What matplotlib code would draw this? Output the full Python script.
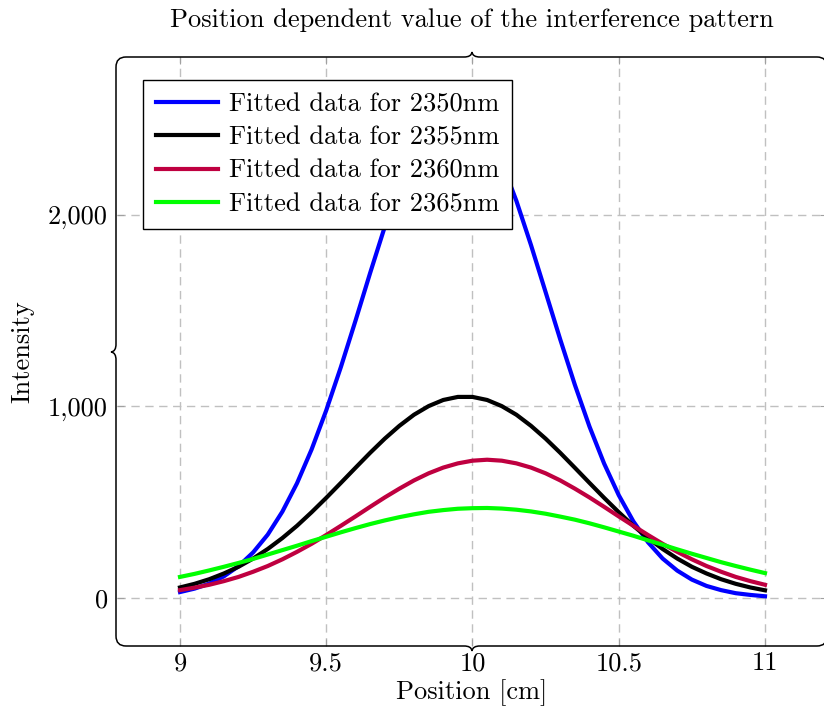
import matplotlib

matplotlib.use("Agg")
import matplotlib.pyplot as plt
import matplotlib.transforms as mtransforms
from matplotlib.patches import PathPatch
from matplotlib.path import Path
from matplotlib.ticker import FuncFormatter

plt.rcParams["font.family"] = ["cmr10", "DejaVu Serif"]
plt.rcParams["axes.formatter.use_mathtext"] = True
plt.rcParams["mathtext.fontset"] = "cm"

# position along the rail [cm]
position = [9.0, 9.05, 9.1, 9.15, 9.2, 9.25, 9.3, 9.35, 9.4, 9.45, 9.5,
            9.55, 9.6, 9.65, 9.7, 9.75, 9.8, 9.85, 9.9, 9.95, 10.0,
            10.05, 10.1, 10.15, 10.2, 10.25, 10.3, 10.35, 10.4, 10.45, 10.5,
            10.55, 10.6, 10.65, 10.7, 10.75, 10.8, 10.85, 10.9, 10.95, 11.0]

# fitted intensities per wavelength
fit_2350 = [31, 49, 75, 113, 166, 238, 331, 451, 599, 776, 980,
            1206, 1448, 1697, 1938, 2159, 2345, 2484, 2566, 2586, 2540,
            2435, 2275, 2074, 1843, 1597, 1350, 1113, 895, 702, 537,
            400, 291, 206, 143, 96, 63, 41, 25, 16, 9]
fit_2355 = [55, 74, 98, 128, 163, 206, 256, 313, 377, 448, 523,
            601, 680, 758, 832, 899, 957, 1002, 1034, 1050, 1050,
            1034, 1002, 957, 899, 832, 758, 680, 601, 523, 448,
            377, 313, 256, 206, 163, 128, 98, 74, 55, 40]
fit_2360 = [41, 54, 69, 88, 110, 137, 167, 202, 241, 283, 329,
            377, 426, 476, 525, 571, 614, 651, 681, 703, 717,
            722, 717, 703, 681, 651, 614, 571, 525, 476, 426,
            377, 329, 283, 241, 202, 167, 137, 110, 88, 69]
fit_2365 = [110, 126, 144, 163, 183, 204, 227, 250, 273, 297, 320,
            343, 365, 386, 405, 422, 437, 450, 459, 466, 469,
            470, 467, 461, 452, 440, 425, 409, 390, 369, 347,
            325, 301, 278, 254, 231, 209, 187, 167, 148, 130]

labels = ["Fitted data for 2350nm", "Fitted data for 2355nm",
          "Fitted data for 2360nm", "Fitted data for 2365nm"]
colors = ["#0000ff", "#000000", "#bf0040", "#00ff00"]

x_ticks = [9, 9.5, 10, 10.5, 11]
y_ticks = [0, 1000, 2000]

W, H = 824, 714
FS = 19

fig = plt.figure(figsize=(W / 100, H / 100), dpi=100)
ax = fig.add_axes([117 / W, 1 - 646 / H, 710 / W, 589 / H])

for ys, lab, col in zip([fit_2350, fit_2355, fit_2360, fit_2365], labels, colors):
    ax.plot(position, ys, color=col, lw=3, label=lab, zorder=3,
            solid_joinstyle="round")

ax.set_xlim(8.7846, 11.212)
ax.set_ylim(-250.7, 2825)
ax.set_xticks(x_ticks)
ax.set_yticks(y_ticks)
ax.xaxis.set_major_formatter(FuncFormatter(lambda v, p: f"{v:g}"))
ax.yaxis.set_major_formatter(FuncFormatter(lambda v, p: f"{v:,.0f}"))
ax.grid(True, color="#c0c0c0", lw=1.0, linestyle=(0, (6, 4)), zorder=1)
ax.tick_params(direction="in", length=5, width=0.8, color="#a0a0a0",
               top=True, right=True, labelsize=FS)
ax.tick_params(axis="x", pad=4)
ax.tick_params(axis="y", pad=6.5)
for s in ax.spines.values():
    s.set_visible(False)

ax.set_xlabel("Position [cm]", fontsize=FS)
ax.xaxis.set_label_coords(0.5, (646 - 693) / 589)
ax.xaxis.label.set_va("center")
ax.set_ylabel("Intensity", fontsize=FS)
ax.yaxis.set_label_coords((22 - 117) / 710, 0.5)
ax.yaxis.label.set_va("center")
ax.text(0.5, (646 - 20) / 589, "Position dependent value of the interference pattern",
        transform=ax.transAxes, ha="center", va="center", fontsize=FS)

leg = ax.legend(loc="upper left", bbox_to_anchor=(143 / W, 1 - 80 / H),
                bbox_transform=fig.transFigure, borderaxespad=0, fontsize=FS,
                fancybox=False, framealpha=1, edgecolor="black",
                handlelength=2.35, handletextpad=0.42, borderpad=0.48,
                labelspacing=0.36)
leg.get_frame().set_linewidth(1.0)
leg.set_zorder(5)

# braces around the plot area, drawn in pixel units (y measured from top)
px = mtransforms.Affine2D().scale(1 / W, 1 / H) + fig.transFigure


def flip(pts):
    return [(x, H - y) for x, y in pts]


def hbrace(x0, x1, y, tx, d, r=10, h=5, w=8):
    verts = [(x0, y - d * r), (x0, y), (x0 + r, y),
             (tx - w, y),
             (tx - w * 0.4, y), (tx - 0.5, y + d * h * 0.3), (tx, y + d * h),
             (tx + 0.5, y + d * h * 0.3), (tx + w * 0.4, y), (tx + w, y),
             (x1 - r, y),
             (x1, y), (x1, y - d * r)]
    codes = [Path.MOVETO, Path.CURVE3, Path.CURVE3, Path.LINETO,
             Path.CURVE4, Path.CURVE4, Path.CURVE4,
             Path.CURVE4, Path.CURVE4, Path.CURVE4,
             Path.LINETO, Path.CURVE3, Path.CURVE3]
    return Path(flip(verts), codes)


def vbrace(x, y0, y1, ty, d, h=5, w=8):
    verts = [(x, y0), (x, ty - w),
             (x, ty - w * 0.4), (x + d * h * 0.3, ty - 0.5), (x + d * h, ty),
             (x + d * h * 0.3, ty + 0.5), (x, ty + w * 0.4), (x, ty + w),
             (x, y1)]
    codes = [Path.MOVETO, Path.LINETO,
             Path.CURVE4, Path.CURVE4, Path.CURVE4,
             Path.CURVE4, Path.CURVE4, Path.CURVE4,
             Path.LINETO]
    return Path(flip(verts), codes)


for path in [hbrace(116, 827, 57, 472, -1), hbrace(116, 827, 646, 472, 1),
             vbrace(116, 67, 636, 352, -1)]:
    fig.add_artist(PathPatch(path, transform=px, fill=False, lw=1.1,
                             edgecolor="black", clip_on=False))

fig.savefig("out.png", dpi=100)
